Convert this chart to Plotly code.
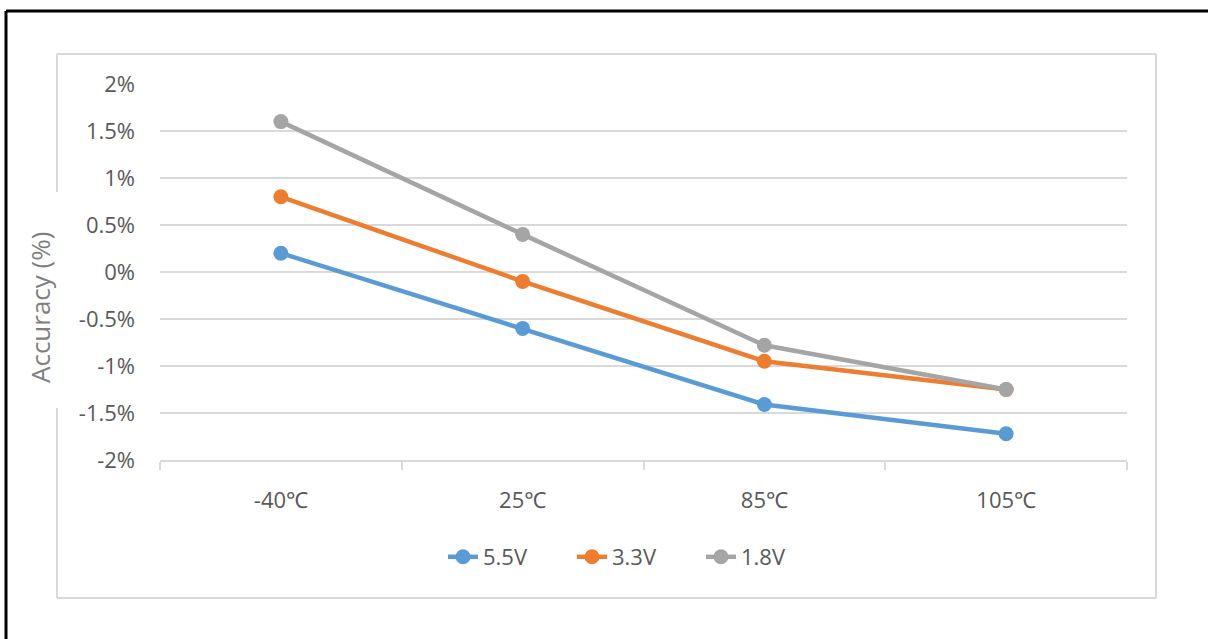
import plotly.graph_objects as go

temps = ['-40℃', '25℃', '85℃', '105℃']
acc_5v5 = [0.2, -0.6, -1.41, -1.72]
acc_3v3 = [0.8, -0.1, -0.95, -1.25]
acc_1v8 = [1.6, 0.4, -0.78, -1.25]
series_names = ['5.5V', '3.3V', '1.8V']
series_colors = ['#5B9BD5', '#ED7D31', '#A5A5A5']
y_ticks = [-2, -1.5, -1, -0.5, 0, 0.5, 1, 1.5, 2]
y_labels = ['-2%', '-1.5%', '-1%', '-0.5%', '0%', '0.5%', '1%', '1.5%', '2%']

W, H = 1208, 639
L, R, T, B = 160, 1127, 84, 460
FONT = 'Open Sans, Noto Sans, sans-serif'
TXT = '#595959'
GRID = '#D9D9D9'


def px(x):
    return (x - L) / (R - L)


def py(y):
    return (B - y) / (B - T)


fig = go.Figure()
for name, vals, col in zip(series_names, [acc_5v5, acc_3v3, acc_1v8], series_colors):
    fig.add_trace(go.Scatter(
        x=temps, y=vals, name=name, mode='lines+markers',
        line=dict(color=col, width=4.5),
        marker=dict(color=col, size=15),
    ))

# chart frame (light grey box with a gap where the axis title sits)
box = dict(type='line', xref='paper', yref='paper',
           line=dict(color=GRID, width=2))
shapes = [
    dict(box, x0=px(57), x1=px(1156), y0=py(54), y1=py(54)),
    dict(box, x0=px(1156), x1=px(1156), y0=py(54), y1=py(598)),
    dict(box, x0=px(57), x1=px(1156), y0=py(598), y1=py(598)),
    dict(box, x0=px(57), x1=px(57), y0=py(54), y1=py(192)),
    dict(box, x0=px(57), x1=px(57), y0=py(408), y1=py(598)),
    # black screenshot edges
    dict(type='line', xref='paper', yref='paper', x0=px(6), x1=px(1210),
         y0=py(11), y1=py(11), line=dict(color='black', width=3)),
    dict(type='line', xref='paper', yref='paper', x0=px(6), x1=px(6),
         y0=py(11), y1=py(645), line=dict(color='black', width=3)),
]

fig.update_layout(
    width=W, height=H,
    margin=dict(l=L, r=W - R, t=T, b=H - B),
    paper_bgcolor='white', plot_bgcolor='white',
    font=dict(family=FONT, size=22, color=TXT),
    showlegend=True,
    legend=dict(orientation='h', x=px(443), xanchor='left', y=py(557), yanchor='middle',
                font=dict(size=22, color=TXT), tracegroupgap=0,
                entrywidth=84, entrywidthmode='pixels'),
    shapes=shapes,
    annotations=[dict(text='Accuracy (%)', textangle=-90, xref='paper', yref='paper',
                      x=px(40), y=py(308), xanchor='center', yanchor='middle',
                      showarrow=False, font=dict(size=26, color='#7F7F7F', family=FONT))],
)
fig.update_xaxes(
    type='category', showgrid=False, showline=True, linecolor=GRID, linewidth=2,
    ticks='outside', tickson='boundaries', ticklen=8, tickcolor=GRID, tickwidth=2,
    ticklabelstandoff=20, tickfont=dict(size=22, color=TXT), range=[-0.5, 3.5],
)
fig.update_yaxes(
    range=[-2, 2], tickvals=y_ticks, ticktext=y_labels, showgrid=True,
    gridcolor=GRID, gridwidth=2, zeroline=False, showline=False,
    ticklabelstandoff=24, tickfont=dict(size=22, color=TXT),
)

fig.write_html('out.html', config={'displayModeBar': False},
               post_script="document.body.style.margin='0';")
